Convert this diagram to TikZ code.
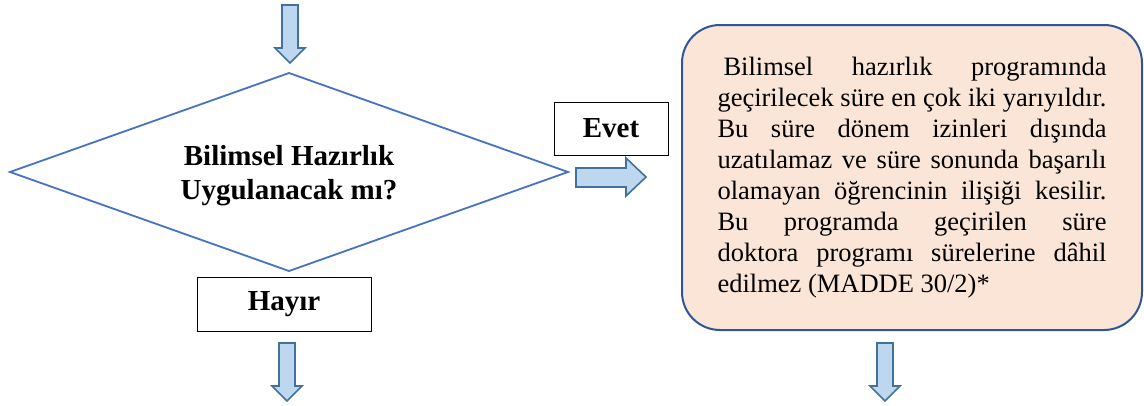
\documentclass[tikz,border=0pt]{standalone}
\usepackage{fontspec}
\setmainfont{Liberation Serif}

\definecolor{arrowfill}{HTML}{BDD7EE}
\definecolor{arrowline}{HTML}{41719C}
\definecolor{diamline}{HTML}{4472C4}
\definecolor{notefill}{HTML}{FBE5D6}
\definecolor{noteline}{HTML}{2F5597}

\tikzset{
  blockarrow/.style={draw=arrowline, fill=arrowfill, line width=1.6pt, line join=miter},
  answerbox/.style={draw, line width=1pt, inner sep=0pt,
    font=\fontsize{29}{33}\selectfont\bfseries},
  questiontext/.style={align=center, font=\fontsize{29}{34}\selectfont\bfseries},
  notebox/.style={draw=noteline, fill=notefill, line width=2pt, rounded corners=38pt,
    minimum width=460pt, minimum height=305pt, text width=389pt, align=justify,
    font=\fontsize{26.5}{31}\selectfont}
}

\begin{document}
\begin{tikzpicture}[x=1pt, y=-1pt]
      \useasboundingbox (0,0) rectangle (1144,405);

      % Draw the decision diamond
      \coordinate (dleft) at (10,172);
      \coordinate (dtop) at (289,73);
      \coordinate (dright) at (568,172);
      \coordinate (dbottom) at (289,271);
      \draw[diamline, line width=1.8pt] (dleft) -- (dtop) -- (dright) -- (dbottom) -- cycle;
      \node[questiontext] (decide) at (289,176) {Bilimsel Hazırlık\\Uygulanacak mı?};

      % Add the two answer boxes
      \node[answerbox, minimum width=114pt, minimum height=53pt] (yes) at (611,128.5) {Evet};
      \node[answerbox, minimum width=174pt, minimum height=54pt] (no) at (284,304) {Hayır};

      % The note for the yes branch
      \node[notebox] (note) at (912,177.5) {\hspace*{6pt}Bilimsel hazırlık programında\linebreak
          geçirilecek süre en çok iki yarıyıldır.\linebreak
          Bu süre dönem izinleri dışında\linebreak
          uzatılamaz ve süre sonunda başarılı\linebreak
          olamayan öğrencinin ilişiği kesilir.\linebreak
          Bu programda geçirilen süre\linebreak
          doktora programı sürelerine dâhil\linebreak
          edilmez (MADDE 30/2)*};

      % Draw the down arrows
      \foreach \x/\ytop in {290/5, 287/343, 885/343} {
          \draw[blockarrow] (\x-8,\ytop) -- (\x+8,\ytop) -- (\x+8,\ytop+43)
              -- (\x+15,\ytop+43) -- (\x,\ytop+58) -- (\x-15,\ytop+43)
              -- (\x-8,\ytop+43) -- cycle;
      }

      % Draw the arrow to the right
      \draw[blockarrow] (576,168) -- (626,168) -- (626,158) -- (646,177)
          -- (626,196) -- (626,187) -- (576,187) -- cycle;
\end{tikzpicture}
\end{document}
